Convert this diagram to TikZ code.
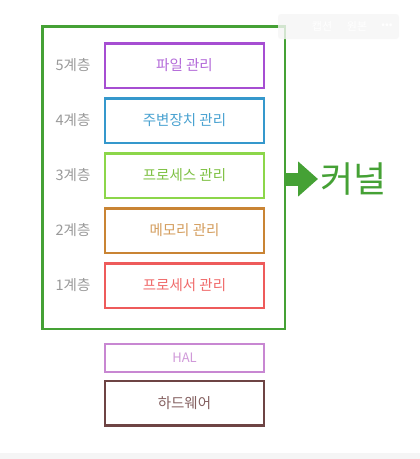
\documentclass[tikz,border=0pt]{standalone}
\usepackage{fontspec}
\setmainfont{Noto Sans CJK KR}
\usetikzlibrary{arrows.meta}
\definecolor{kgreen}{HTML}{45A135}
\definecolor{cfile}{HTML}{A64ED2}
\definecolor{cdev}{HTML}{3598CC}
\definecolor{cproc}{HTML}{8CD64A}
\definecolor{cmem}{HTML}{C98434}
\definecolor{ccpu}{HTML}{EE5B5B}
\definecolor{chal}{HTML}{C887D2}
\definecolor{chw}{HTML}{6E4444}
\definecolor{lblgray}{HTML}{9A9A9A}
\begin{document}
\begin{tikzpicture}[x=1pt, y=-1pt,
  every node/.style={font=\fontsize{14.5}{17}\selectfont},
  layerbox/.style={draw, line width=2.5pt, minimum width=159pt, minimum height=44.5pt, inner sep=0pt},
  layerlbl/.style={text=lblgray}]
  \useasboundingbox (0,0) rectangle (420,459);
  \fill[white] (0,0) rectangle (420,459);
  \fill[gray!8] (0,453) rectangle (420,459);
  % kernel frame
  \node[draw=kgreen, line width=2.5pt, minimum width=242.5pt, minimum height=302.5pt, inner sep=0pt] (kernel) at (163.5,177.5) {};
  % layers
  \node[layerbox, draw=cfile, text=cfile!85!white] (file) at (184.5,65.5) {파일 관리};
  \node[layerbox, draw=cdev, text=cdev!90!white] (dev) at (184.5,120.5) {주변장치 관리};
  \node[layerbox, draw=cproc, text=cproc!90!black] (proc) at (184.5,175.5) {프로세스 관리};
  \node[layerbox, draw=cmem, text=cmem!80!white] (mem) at (184.5,230.5) {메모리 관리};
  \node[layerbox, draw=ccpu, text=ccpu!90!white] (cpu) at (184.5,285.5) {프로세서 관리};
  \node[layerlbl] (l5) at (73,65.5) {5계층};
  \node[layerlbl] (l4) at (73,120.5) {4계층};
  \node[layerlbl] (l3) at (73,175.5) {3계층};
  \node[layerlbl] (l2) at (73,230.5) {2계층};
  \node[layerlbl] (l1) at (73,285.5) {1계층};
  % below the kernel
  \node[layerbox, draw=chal, text=chal!85!white, minimum height=28pt, font=\fontsize{13}{15}\selectfont] (hal) at (184.5,358) {HAL};
  \node[layerbox, draw=chw, text=chw!85!white] (hw) at (184.5,403) {하드웨어};
  % arrow to the label
  \node[text=kgreen, anchor=west, inner sep=2pt, font=\fontsize{36}{40}\selectfont] (knl) at (318,179) {커널};
  \draw[kgreen, line width=13pt, -{Triangle[length=20pt, width=34pt]}] (kernel.east |- knl.west) -- (knl.west);
  % viewer toolbar overlay
  \fill[gray!7, rounded corners=3pt, opacity=0.8] (278,14) rectangle (399,39);
  \node[text=white, font=\fontsize{11}{13}\selectfont] (cap) at (322,26.5) {캡션};
  \node[text=white, font=\fontsize{11}{13}\selectfont] (orig) at (357,26.5) {원본};
  \node[text=white, font=\fontsize{11}{13}\selectfont] (more) at (387,26) {•••};
\end{tikzpicture}
\end{document}
